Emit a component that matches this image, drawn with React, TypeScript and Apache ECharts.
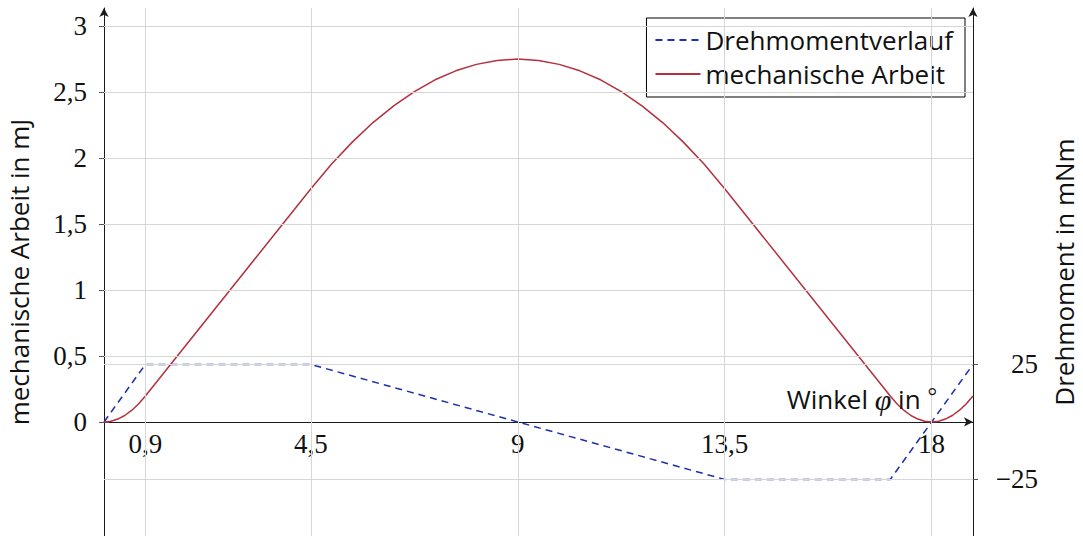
import React, { useEffect, useRef } from "react";
import * as echarts from "echarts";

// Angle (deg) sample points of the work curve and their values (mJ)
const workAngles = [
  0, 0.15, 0.3, 0.45, 0.6, 0.75, 0.9, 4.5, 4.95, 5.4, 5.85, 6.3, 6.75, 7.2, 7.65, 8.1, 8.55, 9,
  9.45, 9.9, 10.35, 10.8, 11.25, 11.7, 12.15, 12.6, 13.05, 13.5, 17.1, 17.25, 17.4, 17.55, 17.7,
  17.85, 18, 18.15, 18.3, 18.45, 18.6, 18.75, 18.9,
];
const workValues = [
  0, 0.005, 0.022, 0.049, 0.087, 0.136, 0.196, 1.767, 1.954, 2.12, 2.268, 2.395, 2.503, 2.592,
  2.66, 2.709, 2.739, 2.749, 2.739, 2.709, 2.66, 2.592, 2.503, 2.395, 2.268, 2.12, 1.954, 1.767,
  0.196, 0.136, 0.087, 0.049, 0.022, 0.005, 0, 0.005, 0.022, 0.049, 0.087, 0.136, 0.196,
];

// Torque course (mNm)
const torqueAngles = [0, 0.9, 4.5, 13.5, 17.1, 18.9];
const torqueValues = [0, 25, 25, -25, -25, 25];

// Tick labels
const xTickValues = [0.9, 4.5, 9, 13.5, 18];
const workTickValues = [0, 0.5, 1, 1.5, 2, 2.5, 3];
const workGridValues = [0.5, 1, 1.5, 2, 2.5, 3];
const torqueTickValues = [-25, 25];

const X_MIN = 0;
const X_MAX = 18.9;
const W_MIN = -0.864;
const W_MAX = 3.136;
const T_PER_W = 57.39;

const SERIF = "Liberation Serif";
const SANS = "Open Sans";
const GRID_COLOR = "#d6d6d6";
const AXIS_COLOR = "#1a1a1a";
const TICK_COLOR = "#555555";

const GRID_TOP = 8;
const GRID_BOTTOM = 0;
const CHART_H = 536;

const comma = (v: number) => String(v).replace(".", ",");

export default function App() {
  const ref = useRef<HTMLDivElement>(null);

  useEffect(() => {
    if (!ref.current) return;
    const chart = echarts.init(ref.current, undefined, { renderer: "svg" });

    const plotH = CHART_H - GRID_TOP - GRID_BOTTOM;
    // shift the x axis from the bottom edge up to the zero line of the work axis
    const zeroOffset = -(plotH * (0 - W_MIN)) / (W_MAX - W_MIN);

    const gridRect = {
      left: 104,
      right: 110,
      top: GRID_TOP,
      bottom: GRID_BOTTOM,
      containLabel: false,
      outerBoundsMode: "none",
    };
    const gridLine = { color: GRID_COLOR, width: 1, type: "solid" as const };

    const option: any = {
      animation: false,
      backgroundColor: "#ffffff",
      grid: [{ ...gridRect }, { ...gridRect }],
      legend: {
        orient: "vertical",
        right: 118,
        top: 18,
        padding: [9, 12, 10, 8],
        itemGap: 8,
        itemWidth: 45,
        itemHeight: 14,
        borderColor: "#000000",
        borderWidth: 1,
        borderRadius: 0,
        backgroundColor: "#ffffff",
        itemStyle: { color: "rgba(0,0,0,0)", borderWidth: 0, opacity: 0 },
        textStyle: { fontFamily: SANS, fontSize: 26, color: "#111111" },
        data: ["Drehmomentverlauf", "mechanische Arbeit"],
      },
      xAxis: [
        {
          type: "value",
          gridIndex: 0,
          position: "bottom",
          offset: zeroOffset,
          min: X_MIN,
          max: X_MAX,
          axisLine: {
            show: true,
            onZero: false,
            symbol: ["none", "arrow"],
            symbolSize: [7, 9],
            lineStyle: { color: AXIS_COLOR, width: 1 },
          },
          axisTick: {
            show: true,
            length: 5,
            customValues: xTickValues,
            lineStyle: { color: TICK_COLOR, width: 1 },
          },
          axisLabel: {
            show: true,
            customValues: xTickValues,
            formatter: (v: number) => comma(v),
            margin: 9,
            fontFamily: SERIF,
            fontSize: 27,
            color: "#111111",
          },
          splitLine: { show: false },
        },
        {
          type: "value",
          gridIndex: 1,
          position: "bottom",
          offset: zeroOffset,
          min: X_MIN,
          max: X_MAX,
          axisLine: { show: false, onZero: false },
          axisTick: {
            show: true,
            inside: true,
            length: 5,
            customValues: xTickValues,
            lineStyle: { color: TICK_COLOR, width: 1 },
          },
          axisLabel: { show: false },
          splitLine: { show: false },
        },
      ],
      yAxis: [
        {
          type: "value",
          gridIndex: 0,
          position: "left",
          min: W_MIN,
          max: W_MAX,
          name: "mechanische Arbeit in mJ",
          nameLocation: "middle",
          nameRotate: 90,
          nameGap: 72,
          nameTextStyle: { fontFamily: SANS, fontSize: 26, color: "#111111" },
          axisLine: {
            show: true,
            onZero: false,
            symbol: ["none", "arrow"],
            symbolSize: [7, 9],
            lineStyle: { color: AXIS_COLOR, width: 1 },
          },
          axisTick: {
            show: true,
            length: 5,
            customValues: workTickValues,
            lineStyle: { color: TICK_COLOR, width: 1 },
          },
          axisLabel: {
            show: true,
            customValues: workTickValues,
            formatter: (v: number) => comma(v),
            margin: 17,
            fontFamily: SERIF,
            fontSize: 27,
            color: "#111111",
          },
          splitLine: { show: false },
        },
        {
          type: "value",
          gridIndex: 0,
          position: "right",
          min: W_MIN * T_PER_W,
          max: W_MAX * T_PER_W,
          name: "Drehmoment in mNm",
          nameLocation: "middle",
          nameRotate: 90,
          nameGap: 78,
          nameTextStyle: { fontFamily: SANS, fontSize: 26, color: "#111111" },
          axisLine: {
            show: true,
            onZero: false,
            symbol: ["none", "arrow"],
            symbolSize: [7, 9],
            lineStyle: { color: AXIS_COLOR, width: 1 },
          },
          axisTick: {
            show: true,
            length: 5,
            customValues: torqueTickValues,
            lineStyle: { color: TICK_COLOR, width: 1 },
          },
          axisLabel: {
            show: true,
            customValues: torqueTickValues,
            formatter: (v: number) => (v < 0 ? "\u2212" + Math.abs(v) : String(v)),
            align: "right",
            margin: 65,
            fontFamily: SERIF,
            fontSize: 27,
            color: "#111111",
          },
          splitLine: { show: false },
        },
        {
          type: "value",
          gridIndex: 1,
          position: "left",
          min: W_MIN,
          max: W_MAX,
          axisLine: { show: false, onZero: false },
          axisTick: {
            show: true,
            inside: true,
            length: 5,
            customValues: workTickValues,
            lineStyle: { color: TICK_COLOR, width: 1 },
          },
          axisLabel: { show: false },
          splitLine: { show: false },
        },
        {
          type: "value",
          gridIndex: 1,
          position: "right",
          min: W_MIN * T_PER_W,
          max: W_MAX * T_PER_W,
          axisLine: { show: false, onZero: false },
          axisTick: {
            show: true,
            inside: true,
            length: 5,
            customValues: torqueTickValues,
            lineStyle: { color: TICK_COLOR, width: 1 },
          },
          axisLabel: { show: false },
          splitLine: { show: false },
        },
      ],
      series: [
        {
          name: "gridlines-work",
          type: "line",
          xAxisIndex: 0,
          yAxisIndex: 0,
          data: [],
          z: 1,
          silent: true,
          markLine: {
            silent: true,
            symbol: ["none", "none"],
            label: { show: false },
            emphasis: { disabled: true },
            lineStyle: gridLine,
            data: [
              ...xTickValues.map((v) => ({ xAxis: v })),
              ...workGridValues.map((v) => ({ yAxis: v })),
            ],
          },
        },
        {
          name: "gridlines-torque",
          type: "line",
          xAxisIndex: 0,
          yAxisIndex: 1,
          data: [],
          z: 1,
          silent: true,
          markLine: {
            silent: true,
            symbol: ["none", "none"],
            label: { show: false },
            emphasis: { disabled: true },
            lineStyle: gridLine,
            data: torqueTickValues.map((v) => ({ yAxis: v })),
          },
        },
        {
          name: "Drehmomentverlauf",
          type: "line",
          xAxisIndex: 0,
          yAxisIndex: 1,
          z: 3,
          symbol: "none",
          showSymbol: false,
          color: "#1c30ad",
          lineStyle: { color: "#1c30ad", width: 1.5, type: [7, 5] },
          data: torqueAngles.map((a, i) => [a, torqueValues[i]]),
        },
        {
          name: "mechanische Arbeit",
          type: "line",
          xAxisIndex: 0,
          yAxisIndex: 0,
          z: 4,
          symbol: "none",
          showSymbol: false,
          color: "#b3303c",
          lineStyle: { color: "#b3303c", width: 1.5 },
          data: workAngles.map((a, i) => [a, workValues[i]]),
        },
      ],
      graphic: [
        {
          type: "text",
          z: 10,
          style: {
            x: 937,
            y: 399,
            align: "right",
            verticalAlign: "middle",
            text: "{a|Winkel }{b|φ}{a| in }{c|°}",
            rich: {
              a: { fontFamily: SANS, fontSize: 26, fill: "#111111" },
              b: { fontFamily: SERIF, fontStyle: "italic", fontSize: 30, fill: "#111111" },
              c: { fontFamily: SERIF, fontSize: 24, fill: "#111111", padding: [0, 0, 6, 0] },
            },
          },
        },
      ],
    };

    chart.setOption(option);
    return () => chart.dispose();
  }, []);

  return (
    <div
      ref={ref}
      style={{ position: "fixed", left: 0, top: 0, width: 1083, height: 536, background: "#fff" }}
    />
  );
}
